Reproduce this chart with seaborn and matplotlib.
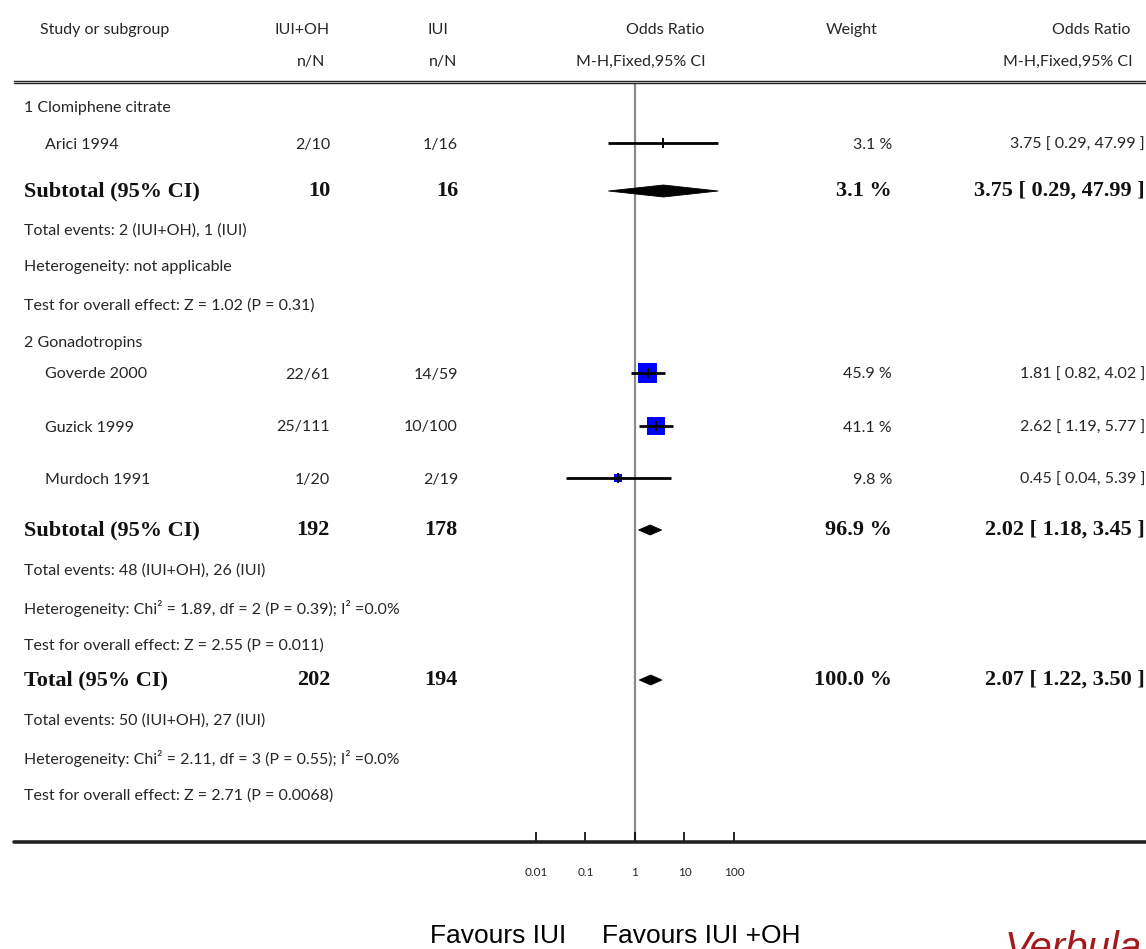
import matplotlib
matplotlib.use("Agg")
import matplotlib.pyplot as plt
import numpy as np
import pandas as pd
import seaborn as sns
from matplotlib.transforms import blended_transform_factory

sns.set_theme(style="white")

# ---- study level data -------------------------------------------------
study_names = ["Arici 1994", "Goverde 2000", "Guzick 1999", "Murdoch 1991"]
events_oh = [2, 22, 25, 1]
total_oh = [10, 61, 111, 20]
events_iui = [1, 14, 10, 2]
total_iui = [16, 59, 100, 19]
study_or = [3.75, 1.81, 2.62, 0.45]
study_lo = [0.29, 0.82, 1.19, 0.04]
study_hi = [47.99, 4.02, 5.77, 5.39]
study_weight = [3.1, 45.9, 41.1, 9.8]

# ---- pooled estimates (subgroup 1, subgroup 2, overall) ---------------
pooled_labels = ["Subtotal (95% CI)", "Subtotal (95% CI)", "Total (95% CI)"]
pooled_n_oh = [10, 192, 202]
pooled_n_iui = [16, 178, 194]
pooled_or = [3.75, 2.02, 2.07]
pooled_lo = [0.29, 1.18, 1.22]
pooled_hi = [47.99, 3.45, 3.50]
pooled_weight = [3.1, 96.9, 100.0]

subgroup_titles = ["1 Clomiphene citrate", "2 Gonadotropins"]
pooled_notes = [
    ["Total events: 2 (IUI+OH), 1 (IUI)",
     "Heterogeneity: not applicable",
     "Test for overall effect: Z = 1.02 (P = 0.31)"],
    ["Total events: 48 (IUI+OH), 26 (IUI)",
     "Heterogeneity: Chi² = 1.89, df = 2 (P = 0.39); I² =0.0%",
     "Test for overall effect: Z = 2.55 (P = 0.011)"],
    ["Total events: 50 (IUI+OH), 27 (IUI)",
     "Heterogeneity: Chi² = 2.11, df = 3 (P = 0.55); I² =0.0%",
     "Test for overall effect: Z = 2.71 (P = 0.0068)"],
]

tick_values = [0.01, 0.1, 1, 10, 100]
tick_labels = ["0.01", "0.1", "1", "10", "100"]
favour_left = "Favours IUI"
favour_right = "Favours IUI +OH"
credit = "Verbula"

# ---- layout (pixel rows / columns of the 1146 x 949 canvas) ----------
W, H = 1146, 949
study_rows = [143, 373, 426, 478]
pooled_rows = [191, 530, 680]
title_rows = [106, 341]
note_rows = [[229, 266, 304], [569, 607, 644], [719, 757, 794]]
diamond_half = [6, 5, 5]
x_center, px_per_decade = 635, 49.5

SANS = ["Lato", "DejaVu Sans"]
SERIF = ["Liberation Serif", "DejaVu Serif"]
ARIAL = ["Liberation Sans", "DejaVu Sans"]
TXT = "#262626"
fs_small = 11.5
fs_bold = 16

fig = plt.figure(figsize=(W / 100, H / 100), dpi=100)
ax = fig.add_axes([0, 0, 1, 1])
ax.set_xscale("log")

# squares sized by study weight
df = pd.DataFrame({"or": study_or, "row": study_rows, "weight": study_weight})
sns.scatterplot(data=df, x="or", y="row", size="weight", sizes=(0, 190),
                size_norm=(3.1, 45.9), marker="s", color="#0000ff",
                edgecolor="none", linewidth=0, legend=False, ax=ax, zorder=3)

# confidence intervals and point ticks
ax.hlines(study_rows, study_lo, study_hi, color="black", lw=2.0, zorder=4)
ax.scatter(study_or, study_rows, marker="|", s=60, color="black",
           linewidths=1.4, zorder=5)

# pooled diamonds
for est, lo, hi, y, h in zip(pooled_or, pooled_lo, pooled_hi, pooled_rows, diamond_half):
    ax.fill([lo, est, hi, est], [y, y - h, y, y + h], color="black", lw=0.6,
            edgecolor="black", zorder=4)

# line of no effect
ax.plot([1, 1], [84, 842], color="#8a8a8a", lw=1.6, zorder=1)

# axis ticks and labels
ax.vlines(tick_values, 832, 842, color="black", lw=1.2)
for v, lab in zip(tick_values, tick_labels):
    ax.text(v, 873, lab, ha="center", va="center", fontsize=8.5,
            family=SANS, color=TXT)

lo_lim = 10 ** (-x_center / px_per_decade)
hi_lim = 10 ** ((W - x_center) / px_per_decade)
ax.set_xlim(lo_lim, hi_lim)
ax.set_ylim(H, 0)
ax.axis("off")

tr = blended_transform_factory(ax.transAxes, ax.transData)


def fx(px):
    return px / W


def txt(px, y, s, ha="left", bold=False, size=None, **kw):
    if bold:
        ax.text(fx(px), y, s, transform=tr, ha=ha, va="center",
                fontsize=size or fs_bold, family=SERIF, weight="bold",
                color="#111111", **kw)
    else:
        ax.text(fx(px), y + 1.5, s, transform=tr, ha=ha, va="center",
                fontsize=size or fs_small, family=SANS, color=TXT, **kw)


# rule lines under the header and along the axis
for yy in (80.5, 83.0):
    ax.plot([fx(14), 1], [yy, yy], transform=tr, color="#222222", lw=1.0)
ax.plot([fx(14), 1], [842, 842], transform=tr, color="#222222", lw=2.6)

# header
txt(40, 28, "Study or subgroup")
txt(330, 28, "IUI+OH", ha="right")
txt(448, 28, "IUI", ha="right")
txt(325, 60, "n/N", ha="right")
txt(457, 60, "n/N", ha="right")
txt(704, 28, "Odds Ratio", ha="right")
txt(706, 60, "M-H,Fixed,95% CI", ha="right")
txt(878, 28, "Weight", ha="right")
txt(1130, 28, "Odds Ratio", ha="right")
txt(1133, 60, "M-H,Fixed,95% CI", ha="right")

# subgroup titles
for t, y in zip(subgroup_titles, title_rows):
    txt(24, y, t)

# study rows
for i, y in enumerate(study_rows):
    txt(45, y, study_names[i])
    txt(330, y, f"{events_oh[i]}/{total_oh[i]}", ha="right")
    txt(458, y, f"{events_iui[i]}/{total_iui[i]}", ha="right")
    txt(892, y, f"{study_weight[i]:.1f} %", ha="right")
    txt(1145, y, f"{study_or[i]:.2f} [ {study_lo[i]:.2f}, {study_hi[i]:.2f} ]", ha="right")

# pooled rows and notes
for i, y in enumerate(pooled_rows):
    txt(24, y, pooled_labels[i], bold=True)
    txt(330, y, f"{pooled_n_oh[i]}", ha="right", bold=True)
    txt(458, y, f"{pooled_n_iui[i]}", ha="right", bold=True)
    txt(892, y, f"{pooled_weight[i]:.1f} %", ha="right", bold=True)
    txt(1145, y, f"{pooled_or[i]:.2f} [ {pooled_lo[i]:.2f}, {pooled_hi[i]:.2f} ]",
        ha="right", bold=True)
    for note, ny in zip(pooled_notes[i], note_rows[i]):
        txt(24, ny, note)

# favours captions and credit
fig.text(430 / W, 1 - 943 / H, favour_left, ha="left", va="baseline",
         fontsize=19, family=ARIAL, color="black")
fig.text(602 / W, 1 - 943 / H, favour_right, ha="left", va="baseline",
         fontsize=19, family=ARIAL, color="black")
fig.text(1005 / W, 1 - 960 / H, credit, ha="left", va="baseline",
         fontsize=29, style="italic", family=ARIAL, color="#a3191c")

fig.savefig("out.png", dpi=100)
